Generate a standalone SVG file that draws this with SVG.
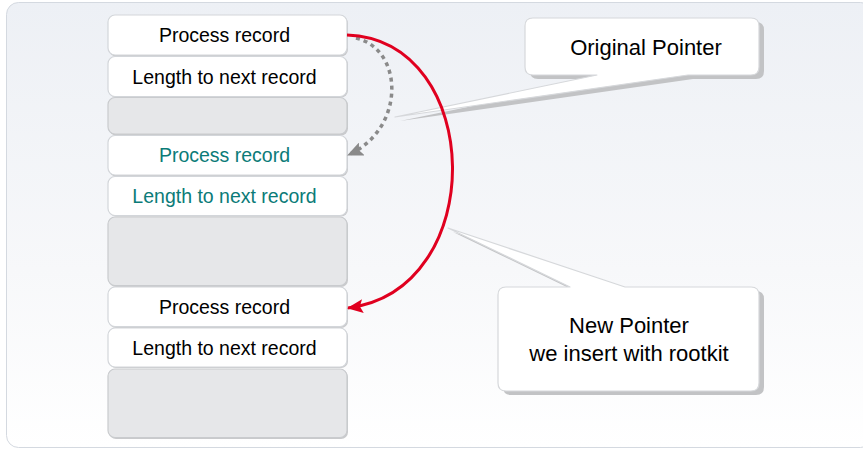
<svg xmlns="http://www.w3.org/2000/svg" width="863" height="449" viewBox="0 0 863 449">
  <defs>
    <linearGradient id="panelFill" x1="0" y1="0" x2="0" y2="1">
      <stop offset="0" stop-color="#edf0f5"/>
      <stop offset="0.6" stop-color="#f7f8fa"/>
      <stop offset="1" stop-color="#ffffff"/>
    </linearGradient>
    <marker id="arrowRed" markerUnits="userSpaceOnUse" markerWidth="16" markerHeight="14" viewBox="0 0 16 14" refX="15" refY="7" orient="auto">
      <path d="M0,0 L16,7 L0,14 L3,7 Z" fill="#e0001f"/>
    </marker>
    <marker id="arrowGray" markerUnits="userSpaceOnUse" markerWidth="16" markerHeight="14" viewBox="0 0 16 14" refX="15" refY="7" orient="auto">
      <path d="M0,0 L16,7 L0,14 L3,7 Z" fill="#8a8a8a"/>
    </marker>
  </defs>
  <style>
    .rec { fill: #ffffff; stroke: #d3d6da; stroke-width: 1.2; }
    .gap { fill: #e6e7e9; stroke: #c9cbce; stroke-width: 1.2; }
    .sh { fill: #c9cacc; }
    .t { font-family: "Liberation Sans", Arial, sans-serif; font-size: 19.5px; text-anchor: middle; fill: #000000; }
    .teal { fill: #0b7b78; }
    .ct { font-family: "Liberation Sans", Arial, sans-serif; font-size: 22px; text-anchor: middle; fill: #000000; }
    .callout { fill: #ffffff; stroke: #d6d8db; stroke-width: 1.2; stroke-linejoin: round; }
    .callout-sh { fill: #c2c3c5; }
  </style>

  <!-- background panel -->
  <rect x="6.5" y="2.5" width="866" height="445" rx="12" fill="url(#panelFill)" stroke="#d4d9e0" stroke-width="1"/>

  <!-- record list -->
  <g id="rec1">
    <rect class="sh" x="109" y="16.5" width="239" height="40" rx="7"/>
    <rect class="rec" x="108" y="15" width="239" height="40" rx="7"/>
    <text class="t" x="224.5" y="42">Process record</text>
  </g>
  <g id="len1">
    <rect class="sh" x="109" y="57.5" width="239" height="40" rx="7"/>
    <rect class="rec" x="108" y="56.5" width="239" height="40" rx="7"/>
    <text class="t" x="224.5" y="83.5">Length to next record</text>
  </g>
  <g id="gap1">
    <rect class="sh" x="109" y="98.5" width="239" height="37" rx="7"/>
    <rect class="gap" x="108" y="97.5" width="239" height="36.5" rx="7"/>
  </g>
  <g id="rec2">
    <rect class="sh" x="109" y="136.5" width="239" height="40" rx="7"/>
    <rect class="rec" x="108" y="135.5" width="239" height="39.5" rx="7"/>
    <text class="t teal" x="224.5" y="162">Process record</text>
  </g>
  <g id="len2">
    <rect class="sh" x="109" y="177.5" width="239" height="39" rx="7"/>
    <rect class="rec" x="108" y="176.5" width="239" height="39" rx="7"/>
    <text class="t teal" x="224.5" y="203">Length to next record</text>
  </g>
  <g id="gap2">
    <rect class="sh" x="109" y="218" width="239" height="69" rx="7"/>
    <rect class="gap" x="108" y="217" width="239" height="68.5" rx="7"/>
  </g>
  <g id="rec3">
    <rect class="sh" x="109" y="288" width="239" height="40" rx="7"/>
    <rect class="rec" x="108" y="287" width="239" height="39.5" rx="7"/>
    <text class="t" x="224.5" y="313.5">Process record</text>
  </g>
  <g id="len3">
    <rect class="sh" x="109" y="329" width="239" height="39" rx="7"/>
    <rect class="rec" x="108" y="328" width="239" height="39" rx="7"/>
    <text class="t" x="224.5" y="354.5">Length to next record</text>
  </g>
  <g id="gap3">
    <rect class="sh" x="109" y="370" width="239" height="69" rx="7"/>
    <rect class="gap" x="108" y="369" width="239" height="68.5" rx="7"/>
  </g>

  <!-- callout: original pointer -->
  <g id="callout-original">
    <path class="callout-sh" transform="translate(5,4)" d="M533,18 H751 Q759,18 759,26 V67 Q759,75 751,75 H688 L395,117 L597,75 H533 Q525,75 525,67 V26 Q525,18 533,18 Z"/>
    <path class="callout" d="M533,18 H751 Q759,18 759,26 V67 Q759,75 751,75 H688 L395,117 L597,75 H533 Q525,75 525,67 V26 Q525,18 533,18 Z"/>
    <text class="ct" x="646" y="55">Original Pointer</text>
  </g>

  <!-- callout: new pointer -->
  <g id="callout-new">
    <path class="callout-sh" transform="translate(5,4)" d="M506,287 H570 L448,228 L625,287 H751 Q759,287 759,295 V383 Q759,391 751,391 H506 Q498,391 498,383 V295 Q498,287 506,287 Z"/>
    <path class="callout" d="M506,287 H570 L448,228 L625,287 H751 Q759,287 759,295 V383 Q759,391 751,391 H506 Q498,391 498,383 V295 Q498,287 506,287 Z"/>
    <text class="ct" x="629" y="333">New Pointer</text>
    <text class="ct" x="629" y="361">we insert with rootkit</text>
  </g>

  <!-- pointers -->
  <g id="connectors" fill="none">
    <path d="M356,38 C405,50 405,130 348,155" stroke="#8a8a8a" stroke-width="3.5" stroke-dasharray="4 4" marker-end="url(#arrowGray)"/>
    <path d="M347,35 C485,40 490,290 348,308" stroke="#e0001f" stroke-width="3" marker-end="url(#arrowRed)"/>
  </g>
</svg>
